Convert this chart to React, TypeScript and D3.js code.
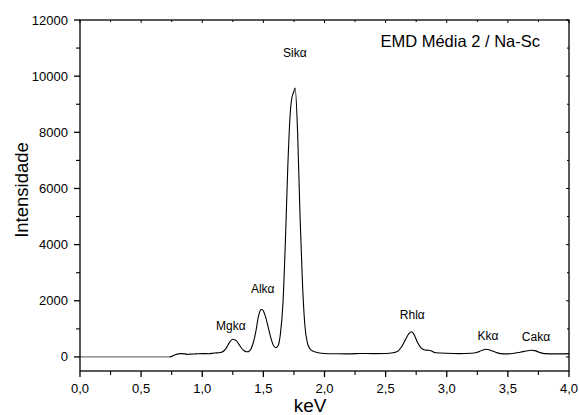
import React from "react";
import * as d3 from "d3";

const energy: number[] = [
  0.0, 0.1, 0.2, 0.3, 0.4, 0.5, 0.6, 0.7, 0.73, 0.75, 0.78, 0.82, 0.86, 0.88, 0.9, 0.95, 1.0, 1.05, 1.1, 1.15,
  1.18, 1.2, 1.22, 1.25, 1.28, 1.3, 1.32, 1.34, 1.36, 1.38, 1.4, 1.42, 1.44, 1.46, 1.48, 1.49, 1.5, 1.52,
  1.54, 1.56, 1.58, 1.6, 1.62, 1.64, 1.66, 1.68, 1.7, 1.72, 1.74, 1.745, 1.76, 1.78, 1.8, 1.82, 1.84, 1.86,
  1.88, 1.9, 1.95, 2.0, 2.1, 2.2, 2.3, 2.4, 2.5, 2.56, 2.6, 2.63, 2.66, 2.69, 2.71, 2.73, 2.76, 2.79, 2.82,
  2.85, 2.87, 2.9, 2.95, 3.0, 3.1, 3.2, 3.25, 3.29, 3.32, 3.35, 3.4, 3.44, 3.5, 3.55, 3.6, 3.65, 3.69, 3.72,
  3.76, 3.8, 3.9, 4.0,
];
const intensity: number[] = [
  0, 0, 0, 0, 0, 0, 0, 0, 0, 20, 80, 120, 110, 90, 100, 110, 120, 115, 140, 160,
  230, 340, 500, 630, 570, 450, 320, 230, 185, 190, 300, 550, 950, 1450, 1680, 1690, 1640, 1400,
  1050, 700, 430, 330, 400, 850, 1900, 4100, 6800, 8700, 9350, 9400, 9580, 8000, 5000, 2600, 1100, 500,
  300, 220, 150, 125, 115, 110, 125, 120, 125, 150, 200, 360, 600, 830, 900, 820, 520, 320, 250,
  240, 220, 160, 140, 130, 120, 130, 170, 240, 275, 250, 170, 120, 110, 130, 170, 210, 240, 225,
  160, 120, 110, 120,
];

const xTicks: number[] = [0, 0.5, 1.0, 1.5, 2.0, 2.5, 3.0, 3.5, 4.0];
const xMinor: number[] = [0.25, 0.75, 1.25, 1.75, 2.25, 2.75, 3.25, 3.75];
const yTicks: number[] = [0, 2000, 4000, 6000, 8000, 10000, 12000];
const yMinor: number[] = [1000, 3000, 5000, 7000, 9000, 11000];

const peakNames: string[] = ["Mgkα", "Alkα", "Sikα", "Rhlα", "Kkα", "Cakα"];
const peakX: number[] = [1.234, 1.495, 1.757, 2.718, 3.338, 3.73];
const peakY: number[] = [970, 2290, 10680, 1340, 590, 580];

const title = "EMD Média 2 / Na-Sc";
const xLabel = "keV";
const yLabel = "Intensidade";

export default function App() {
  const W = 579, H = 415;
  const x = d3.scaleLinear().domain([0, 4]).range([80, 569]);
  const y = d3.scaleLinear().domain([-500, 12000]).range([371, 20]);
  const data = energy.map((e, i) => [e, intensity[i]] as [number, number]);
  const splitIdx = energy.indexOf(0.73);
  const line = d3
    .line<[number, number]>()
    .x((d) => x(d[0]))
    .y((d) => y(d[1]))
    .curve(d3.curveMonotoneX);
  const grayPart = data.slice(0, splitIdx + 1);
  const blackPart = data.slice(splitIdx);
  const font = "'Liberation Sans', Arial, sans-serif";
  const x0 = x(0), x1 = x(4), yb = y(-500), yt = y(12000);

  return (
    <svg width={W} height={H} style={{ position: "absolute", left: 0, top: 0, background: "#fff" }}>
      <path d={line(grayPart) || ""} fill="none" stroke="#777" strokeWidth={1.2} />
      <path d={line(blackPart) || ""} fill="none" stroke="#000" strokeWidth={1.1} />
      <rect x={x0} y={yt} width={x1 - x0} height={yb - yt} fill="none" stroke="#000" strokeWidth={1.3} />
      {xTicks.map((t) => (
        <g key={"xt" + t}>
          <line x1={x(t)} x2={x(t)} y1={yb} y2={yb + 6} stroke="#000" strokeWidth={1.3} />
          <line x1={x(t)} x2={x(t)} y1={yt} y2={yt + 3} stroke="#000" strokeWidth={1} />
          <text x={x(t)} y={393} textAnchor="middle" fontFamily={font} fontSize={13}>
            {t.toFixed(1).replace(".", ",")}
          </text>
        </g>
      ))}
      {xMinor.map((t) => (
        <g key={"xm" + t}>
          <line x1={x(t)} x2={x(t)} y1={yb} y2={yb + 4} stroke="#000" strokeWidth={1.1} />
          <line x1={x(t)} x2={x(t)} y1={yt} y2={yt + 2} stroke="#000" strokeWidth={1} />
        </g>
      ))}
      {yTicks.map((t) => (
        <g key={"yt" + t}>
          <line x1={x0 - 6} x2={x0} y1={y(t)} y2={y(t)} stroke="#000" strokeWidth={1.3} />
          <line x1={x1 - 3} x2={x1} y1={y(t)} y2={y(t)} stroke="#000" strokeWidth={1} />
          <text x={68} y={y(t) + 4.5} textAnchor="end" fontFamily={font} fontSize={13}>
            {t}
          </text>
        </g>
      ))}
      {yMinor.map((t) => (
        <g key={"ym" + t}>
          <line x1={x0 - 4} x2={x0} y1={y(t)} y2={y(t)} stroke="#000" strokeWidth={1.1} />
          <line x1={x1 - 2} x2={x1} y1={y(t)} y2={y(t)} stroke="#000" strokeWidth={1} />
        </g>
      ))}
      <text x={310} y={412} textAnchor="middle" fontFamily={font} fontSize={19}>
        {xLabel}
      </text>
      <text
        transform={`translate(28,190) rotate(-90)`}
        textAnchor="middle"
        fontFamily={font}
        fontSize={18.5}
      >
        {yLabel}
      </text>
      <text x={540} y={47} textAnchor="end" fontFamily={font} fontSize={16.5}>
        {title}
      </text>
      {peakNames.map((n, i) => (
        <text key={n} x={x(peakX[i])} y={y(peakY[i])} textAnchor="middle" fontFamily={font} fontSize={12}>
          {n}
        </text>
      ))}
    </svg>
  );
}
